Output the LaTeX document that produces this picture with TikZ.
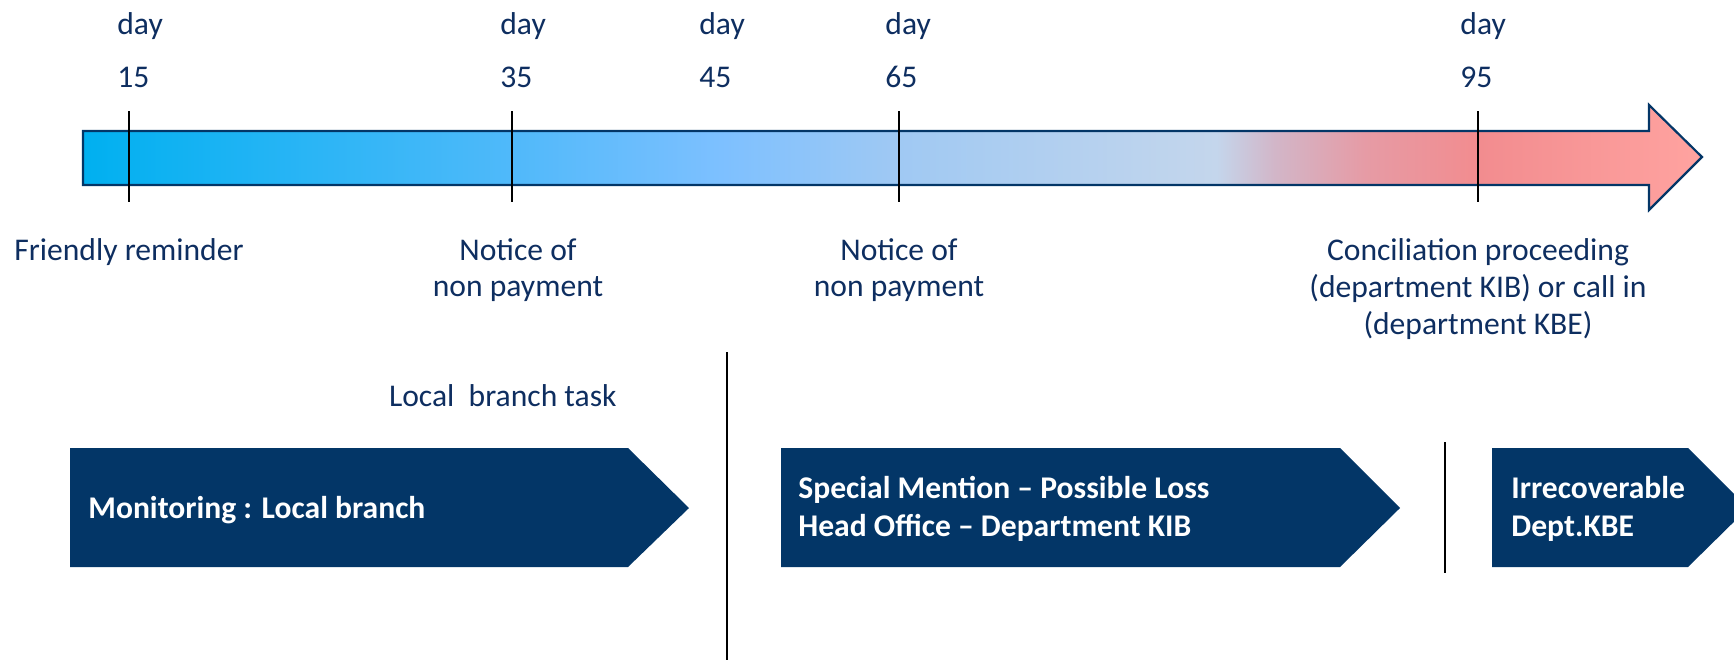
\documentclass[tikz,border=0pt]{standalone}
\usepackage{fontspec}
\setmainfont{Carlito}
\usepackage{xcolor}
\usepackage{tikz}
\usetikzlibrary{positioning, calc}
\definecolor{kibnavy}{RGB}{3, 54, 103}
\definecolor{textnavy}{RGB}{14, 46, 96}
\definecolor{tlA}{RGB}{0, 176, 240}
\definecolor{tlB}{RGB}{80, 185, 250}
\definecolor{tlC}{RGB}{125, 192, 255}
\definecolor{tlD}{RGB}{160, 201, 243}
\definecolor{tlE}{RGB}{196, 214, 236}
\definecolor{tlF}{RGB}{210, 182, 200}
\definecolor{tlG}{RGB}{230, 155, 165}
\definecolor{tlH}{RGB}{242, 140, 143}
\definecolor{tlI}{RGB}{255, 163, 160}
\pgfdeclarehorizontalshading{timeline}{100bp}{color(0bp)=(tlA); color(25bp)=(tlA);
  color(38.3bp)=(tlB); color(44.7bp)=(tlC); color(50.2bp)=(tlD); color(60bp)=(tlE);
  color(61.8bp)=(tlF); color(64.6bp)=(tlG); color(68.1bp)=(tlH); color(75bp)=(tlI);
  color(100bp)=(tlI)}
\tikzset{
  lbl/.style={text=textnavy, font=\fontsize{15.8}{18.3}\selectfont, inner sep=0pt},
  phase/.style={fill=kibnavy},
  phasetext/.style={text=white, font=\fontsize{15.8}{19.3}\selectfont\bfseries,
    inner sep=0pt, anchor=west, align=left},
  divider/.style={black, line width=1pt}
}

\begin{document}
\begin{tikzpicture}[x=0.5pt, y=-0.5pt]
  \useasboundingbox (0,0) rectangle (1734,660);
  \clip (0,0) rectangle (1734,660);
  % timeline arrow
  \shadedraw[shading=timeline, draw=kibnavy, line width=1.1pt, line join=miter]
    (83,131) -- (1649,131) -- (1649,105) -- (1702,157) -- (1649,210)
    -- (1649,185) -- (83,185) -- cycle;
  \foreach \x/\d in {129/15, 512/35, 899/65, 1478/95} {
    \draw[black, line width=0.75pt] (\x,111) -- (\x,202);
  }
  \foreach \x/\d/\n in {117/15/a, 500/35/b, 699/45/c, 885/65/d, 1460/95/e} {
    \node[lbl, anchor=west] (day\n) at (\x,26) {day};
    \node[lbl, anchor=west] (num\n) at (\x,77) {\d};
  }
  \node[lbl, anchor=west] (remind) at (14,252) {Friendly reminder};
  \node[lbl, align=center] (notice1) at (518,270) {Notice of\\non payment};
  \node[lbl, align=center] (notice2) at (899,270) {Notice of\\non payment};
  \node[lbl, align=center] (concil) at (1478,289)
    {Conciliation proceeding\\(department KIB) or call in\\(department KBE)};
  \node[lbl, anchor=east] (localtask) at (617,396) {Local\ \ branch task};
  % phases
  \fill[phase] (70,448) -- (628,448) -- (689,508) -- (628,567) -- (70,567) -- cycle;
  \fill[phase] (781,448) -- (1340,448) -- (1400,508) -- (1340,567) -- (781,567) -- cycle;
  \fill[phase] (1492,448) -- (1688,448) -- (1748,508) -- (1688,567) -- (1492,567) -- cycle;
  \node[phasetext] (monitor) at (88,510) {Monitoring : Local branch};
  \node[phasetext] (special) at (798,509)
    {Special Mention -- Possible Loss\\Head Office -- Department KIB};
  \node[phasetext] (irrec) at (1511,509) {Irrecoverable\\Dept.KBE};
  \draw[divider] (727,352) -- (727,660);
  \draw[divider] (1445,442) -- (1445,573);
\end{tikzpicture}
\end{document}
